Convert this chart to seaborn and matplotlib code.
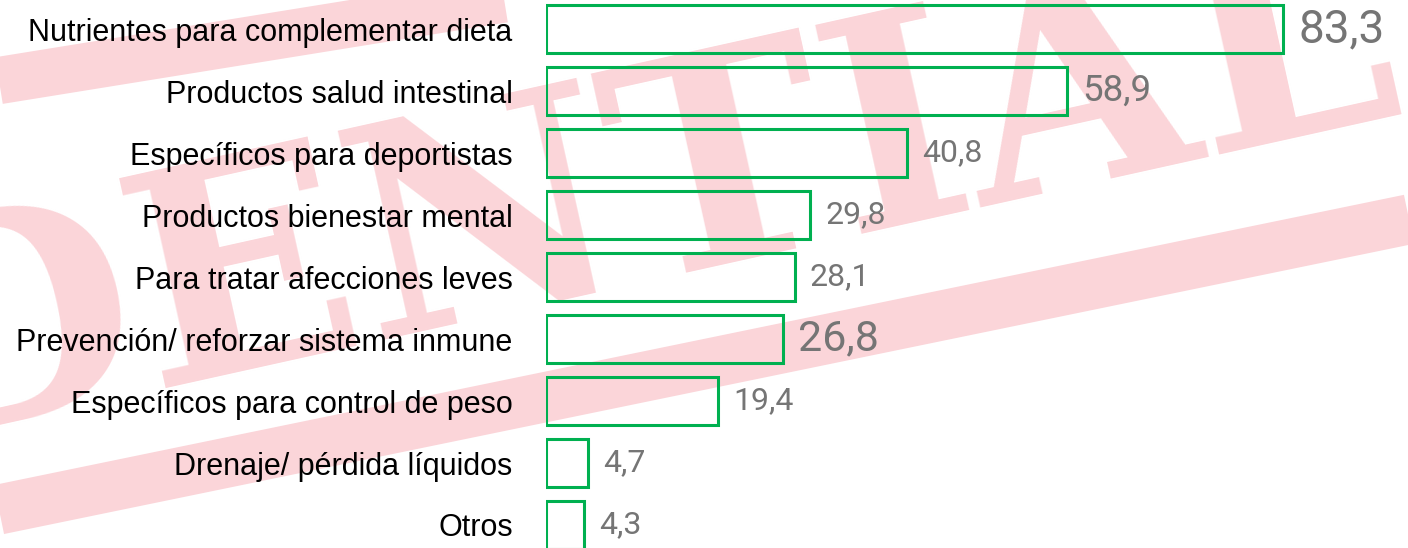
import matplotlib
matplotlib.use("Agg")
import matplotlib.pyplot as plt
from matplotlib.lines import Line2D
import seaborn as sns


# DATA

categories = [
    "Nutrientes para complementar dieta",
    "Productos salud intestinal",
    "Específicos para deportistas",
    "Productos bienestar mental",
    "Para tratar afecciones leves",
    "Prevención/ reforzar sistema inmune",
    "Específicos para control de peso",
    "Drenaje/ pérdida líquidos",
    "Otros",
]
values = [83.3, 58.9, 40.8, 29.8, 28.1, 26.8, 19.4, 4.7, 4.3]
value_labels = ["83,3", "58,9", "40,8", "29,8", "28,1", "26,8", "19,4", "4,7", "4,3"]
label_sizes = [33, 26.5, 23, 23, 23, 31, 23, 23, 23]


# STYLE

sns.set_style("white")
plt.rcParams['font.family'] = ['Liberation Sans', 'DejaVu Sans']

GREEN = "#00B050"
GREY = "#757575"
PINK = "#fbd5d9"

fig = plt.figure(figsize=(14.08, 5.48), dpi=100)


# WATERMARK (stamp behind the chart)

fig.text(1.0, 0.80, "CONFIDENTIAL", rotation=12.5, rotation_mode='anchor',
         ha='right', va='baseline', fontsize=212, fontweight='bold',
         family='DejaVu Serif', color=PINK, zorder=-2)
fig.add_artist(Line2D([-0.02, 1.02], [0.06, 0.61], transform=fig.transFigure,
                      lw=36, color=PINK, solid_capstyle='butt', zorder=-2))
fig.add_artist(Line2D([-0.02, 0.45], [0.845, 1.04], transform=fig.transFigure,
                      lw=34, color=PINK, solid_capstyle='butt', zorder=-2))


# BARS

ax = fig.add_axes([546 / 1408, 0, 1 - 546 / 1408, 1])
ax.patch.set_alpha(0)

sns.barplot(x=values, y=categories, orient='h', fill=False, color=GREEN,
            linewidth=2.2, width=0.77, ax=ax)

for i, (v, lab, s) in enumerate(zip(values, value_labels, label_sizes)):
    ax.annotate(lab, xy=(v, i), xytext=(11, 0), textcoords='offset points',
                ha='left', va='center', fontsize=s, color=GREY, family='Roboto')

ax.set_xlim(0, 97.4)
ax.set_ylim(8.371, -0.468)
ax.set_xticks([])
ax.set_xlabel("")
ax.set_ylabel("")
ax.tick_params(axis='y', length=0, pad=24, labelsize=22, labelcolor='black')
sns.despine(ax=ax, left=True, bottom=True)

fig.savefig("out.png", dpi=100)
